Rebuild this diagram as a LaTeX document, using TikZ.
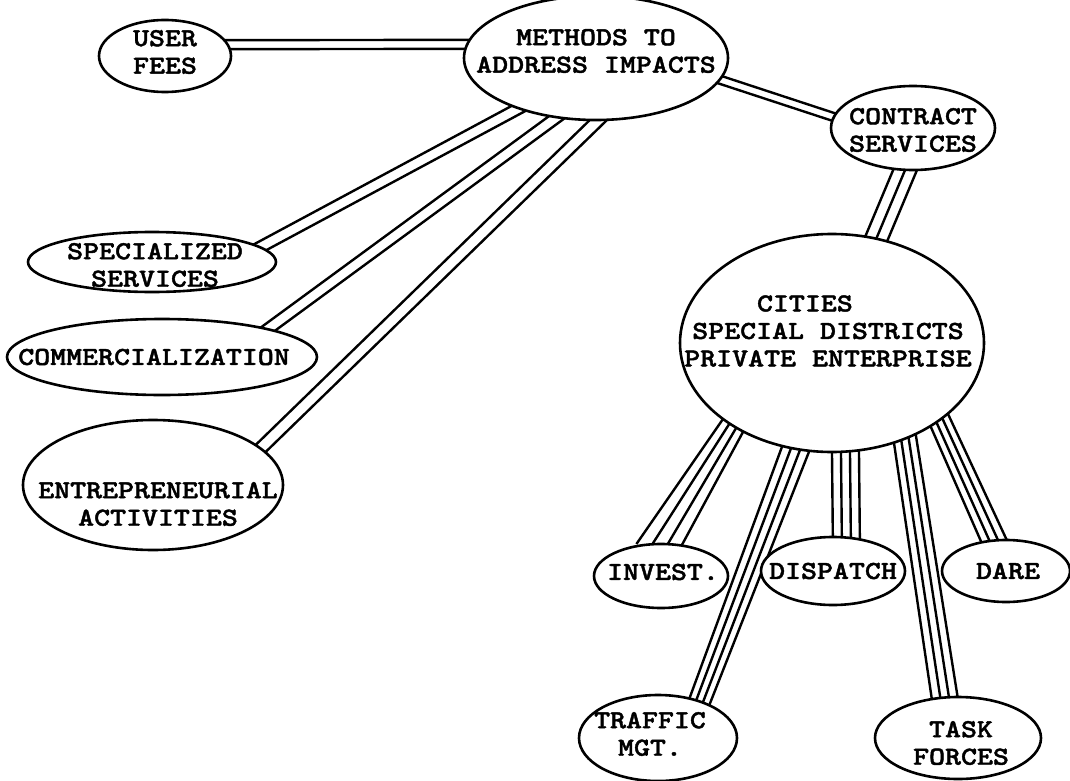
\documentclass[tikz,border=0pt]{standalone}
\usepackage{fontspec}
\newfontfamily\typew{lmmonolt10-bold.otf}[FakeStretch=1.17, FakeBold=1.6]
\usetikzlibrary{calc,backgrounds,shapes.geometric}

% n parallel strokes from #4 to #5, spacing #2 at the start and #3 at the end
\newcommand{\wires}[5]{%
  \pgfmathtruncatemacro\wlast{#1-1}
  \foreach \k in {0,...,\wlast}{
    \pgfmathsetmacro\oa{(\k-\wlast/2)*#2}
    \pgfmathsetmacro\ob{(\k-\wlast/2)*#3}
    \draw[wire] ($(#4)!\oa pt!90:(#5)$) -- ($(#5)!\ob pt!-90:(#4)$);
  }}

\tikzset{
  bubble/.style={draw, ellipse, line width=2.6pt, fill=white, inner sep=0pt},
  lbl/.style={font=\typew\fontsize{26}{27.5}\selectfont, align=center, inner sep=0pt},
  wire/.style={line width=2.4pt, shorten <=-14pt, shorten >=-14pt}
}

\begin{document}
\begin{tikzpicture}[x=1pt, y=-1pt]
  \useasboundingbox (0,0) rectangle (1070,781);

  % bubbles
  \node[bubble, minimum width=132pt, minimum height=72pt,
        label={[lbl, yshift=4pt]center:USER\\FEES}] (fees) at (165,56) {};
  \node[bubble, minimum width=264pt, minimum height=124pt,
        label={[lbl, yshift=7pt]center:METHODS TO\\ADDRESS IMPACTS}] (methods) at (596,58) {};
  \node[bubble, minimum width=164pt, minimum height=84pt,
        label={[lbl, yshift=-2pt]center:CONTRACT\\SERVICES}] (contract) at (913,128) {};
  \node[bubble, minimum width=304pt, minimum height=218pt,
        label={[lbl, xshift=-4pt, yshift=12pt]center:\makebox[142pt][l]{CITIES}\\SPECIAL DISTRICTS\\PRIVATE ENTERPRISE}] (cities) at (832,343) {};
  \node[bubble, minimum width=248pt, minimum height=60pt,
        label={[lbl, xshift=3pt, yshift=-3pt]center:SPECIALIZED\\SERVICES}] (special) at (152,262) {};
  \node[bubble, minimum width=310pt, minimum height=76pt,
        label={[lbl, xshift=-8pt]center:COMMERCIALIZATION}] (commerce) at (162,357) {};
  \node[bubble, minimum width=260pt, minimum height=130pt,
        label={[lbl, xshift=5pt, yshift=-19pt]center:ENTREPRENEURIAL\\ACTIVITIES}] (entre) at (153,485) {};
  \node[bubble, minimum width=134pt, minimum height=64pt,
        label={[lbl, xshift=2pt, yshift=4pt]center:INVEST.}] (invest) at (661,576) {};
  \node[bubble, minimum width=144pt, minimum height=68pt,
        label={[lbl]center:DISPATCH}] (dispatch) at (833,571) {};
  \node[bubble, minimum width=128pt, minimum height=62pt,
        label={[lbl, xshift=2pt]center:DARE}] (dare) at (1006,571) {};
  \node[bubble, minimum width=158pt, minimum height=86pt,
        label={[lbl, xshift=-8pt, yshift=4pt]center:TRAFFIC\\MGT.}] (traffic) at (658,738) {};
  \node[bubble, minimum width=166pt, minimum height=82pt,
        label={[lbl, xshift=3pt, yshift=-5pt]center:TASK\\FORCES}] (task) at (958,738) {};

  % links, behind the bubbles
  \begin{pgfonlayer}{background}
    \fill[white] (0,0) rectangle (1070,781);
    \wires{2}{9}{9}{fees.10}{methods.174}
    \wires{2}{8}{8}{methods.-10}{contract.172}
    \wires{2}{11}{11}{methods.213}{special.8}
    \wires{2}{11}{11}{methods.236}{commerce.15}
    \wires{2}{12}{12}{methods.271}{entre.19}
    \wires{3}{11}{11}{contract.259}{cities.67}
    \wires{4}{8}{13}{cities.220}{invest.90}
    \wires{4}{9}{7}{cities.251}{traffic.42}
    \wires{4}{9}{9}{cities.277}{dispatch.69}
    \wires{4}{7.6}{8.6}{cities.307}{task.108}
    \wires{4}{7}{8}{cities.324}{dare.112}
  \end{pgfonlayer}
\end{tikzpicture}
\end{document}
